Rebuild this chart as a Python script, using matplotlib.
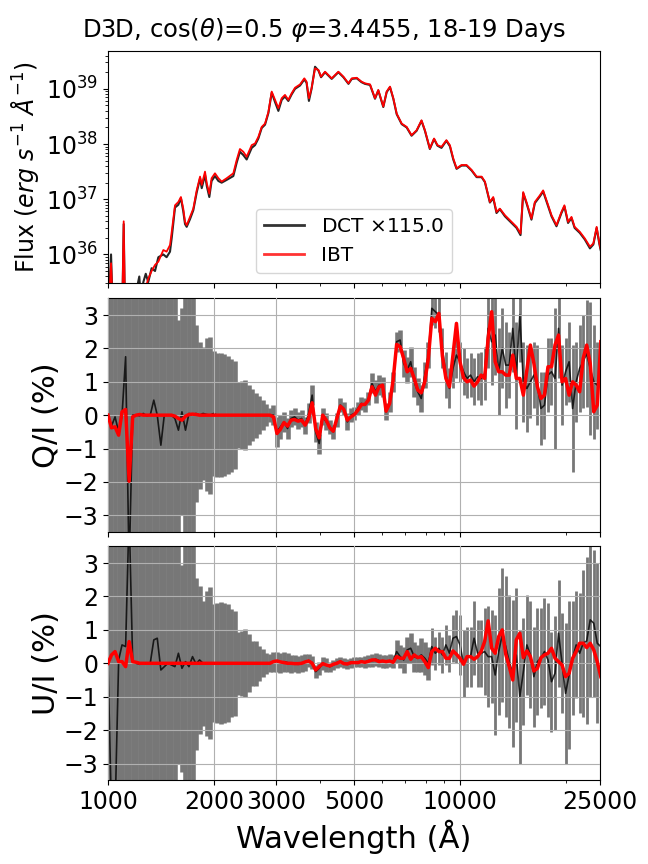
import matplotlib
matplotlib.use("Agg")
import matplotlib.pyplot as plt
import numpy as np
from matplotlib.lines import Line2D
from matplotlib.ticker import NullFormatter

# ---- flux panel (log10 of flux, DCT already scaled x115) ----
flux_wave = [1000, 1010, 1020, 1028, 1036, 1050, 1080, 1100, 1108, 1116,
             1150, 1200, 1227, 1240, 1260, 1280, 1301, 1330, 1360, 1390,
             1436, 1467, 1500, 1517, 1550, 1584, 1611, 1636, 1655, 1673,
             1710, 1747, 1786, 1826, 1846, 1886, 1908, 1940, 1969, 2013,
             2059, 2103, 2173, 2270, 2320, 2370, 2423, 2477, 2560, 2616,
             2674, 2733, 2793, 2855, 2918, 2982, 3048, 3115, 3183, 3253,
             3325, 3399, 3512, 3612, 3665, 3722, 3787, 3874, 3962, 4030,
             4136, 4320, 4513, 4664, 4821, 4928, 5090, 5250, 5370, 5552,
             5735, 5860, 6055, 6190, 6326, 6465, 6610, 6830, 7055, 7285,
             7530, 7775, 7950, 8210, 8440, 8630, 8860, 9150, 9360, 9570,
             9780, 10100, 10440, 10790, 11150, 11520, 11770, 12160, 12430, 12700,
             12980, 13420, 13860, 14480, 14860, 15120, 15450, 15960, 16320, 16860,
             17230, 17800, 18200, 18800, 19420, 19800, 20280, 20740, 21170, 21900,
             22630, 23400, 23930, 24450, 24900, 25100]

ibt_logflux = [35.3, 35.35, 35.84, 35.3, 35.0, 34.8, 34.9, 35.4, 36.6, 35.2,
               34.9, 35.0, 35.1, 35.2, 35.3, 35.4, 35.56, 35.7, 35.81, 35.87,
               36.08, 36.05, 36.17, 36.41, 36.89, 36.95, 37.04, 36.83, 36.59, 36.53,
               36.68, 36.83, 37.16, 37.41, 37.26, 37.50, 37.29, 37.10, 37.38, 37.47,
               37.38, 37.32, 37.38, 37.47, 37.71, 37.91, 37.86, 37.77, 37.98, 38.01,
               38.13, 38.31, 38.37, 38.58, 38.95, 38.80, 38.65, 38.83, 38.89, 38.80,
               38.92, 39.02, 39.08, 39.19, 39.13, 38.83, 39.01, 39.37, 39.34, 39.22,
               39.31, 39.19, 39.31, 39.22, 39.10, 39.19, 39.20, 39.13, 39.10, 39.08,
               38.83, 38.98, 38.68, 38.95, 39.04, 38.83, 38.55, 38.37, 38.31, 38.16,
               38.25, 38.43, 38.25, 37.92, 38.10, 37.98, 37.95, 38.07, 37.98, 37.74,
               37.56, 37.62, 37.62, 37.53, 37.41, 37.41, 37.32, 36.95, 37.04, 36.77,
               36.83, 36.71, 36.62, 36.50, 36.38, 37.13, 36.95, 36.65, 36.95, 37.07,
               37.16, 36.89, 36.71, 36.53, 36.77, 36.89, 36.59, 36.68, 36.50, 36.41,
               36.29, 36.14, 36.20, 36.50, 36.20, 36.10]

dct_logflux = [35.3, 35.4, 36.0, 35.3, 35.0, 34.8, 34.9, 35.3, 36.55, 35.2,
               34.9, 35.3, 35.6, 35.2, 35.5, 35.65, 35.5, 35.75, 35.7, 35.95,
               36.0, 35.95, 36.05, 36.3, 36.85, 36.9, 37.02, 36.78, 36.55, 36.50,
               36.64, 36.80, 37.12, 37.38, 37.20, 37.44, 37.24, 37.04, 37.33, 37.42,
               37.33, 37.30, 37.35, 37.42, 37.66, 37.86, 37.80, 37.72, 37.93, 37.98,
               38.10, 38.29, 38.35, 38.56, 38.93, 38.76, 38.60, 38.80, 38.86, 38.78,
               38.90, 39.00, 39.06, 39.17, 39.11, 38.78, 39.00, 39.40, 39.33, 39.21,
               39.30, 39.18, 39.30, 39.21, 39.09, 39.18, 39.19, 39.12, 39.09, 39.07,
               38.82, 38.97, 38.67, 38.94, 39.03, 38.82, 38.54, 38.36, 38.30, 38.15,
               38.24, 38.42, 38.24, 37.91, 38.09, 37.97, 37.93, 38.06, 37.96, 37.72,
               37.55, 37.61, 37.61, 37.52, 37.40, 37.40, 37.31, 36.94, 37.02, 36.75,
               36.82, 36.69, 36.60, 36.48, 36.35, 37.11, 36.93, 36.63, 36.93, 37.05,
               37.14, 36.87, 36.69, 36.51, 36.75, 36.87, 36.57, 36.66, 36.48, 36.39,
               36.27, 36.11, 36.18, 36.48, 36.18, 36.08]

# ---- polarisation bins ----
pol_wave = [1000, 1023, 1047, 1072, 1096, 1122, 1148, 1175, 1202, 1230,
            1259, 1288, 1318, 1349, 1380, 1413, 1445, 1479, 1514, 1549,
            1585, 1622, 1660, 1698, 1738, 1778, 1820, 1862, 1905, 1950,
            1995, 2042, 2089, 2138, 2188, 2239, 2291, 2344, 2399, 2455,
            2512, 2570, 2630, 2692, 2754, 2818, 2884, 2951, 3020, 3090,
            3162, 3236, 3311, 3388, 3467, 3548, 3631, 3715, 3802, 3890,
            3981, 4074, 4169, 4266, 4365, 4467, 4571, 4677, 4786, 4898,
            5012, 5129, 5248, 5370, 5495, 5623, 5754, 5888, 6026, 6166,
            6310, 6457, 6607, 6761, 6918, 7079, 7244, 7413, 7586, 7762,
            7943, 8128, 8318, 8511, 8710, 8913, 9120, 9333, 9550, 9772,
            10000, 10233, 10471, 10715, 10965, 11220, 11482, 11749, 12023, 12303,
            12589, 12882, 13183, 13490, 13804, 14125, 14454, 14791, 15136, 15488,
            15849, 16218, 16596, 16982, 17378, 17783, 18197, 18621, 19055, 19498,
            19953, 20417, 20893, 21380, 21878, 22387, 22909, 23442, 23988, 24547,
            25119]

q_dct = [0.0, -0.33, -0.05, -0.5, 0.0, 1.75, -4.6, 0.0, 0.0, -0.02,
         0.05, -0.02, 0.0, 0.45, 0.0, -0.9, 0.0, 0.0, 0.0, -0.1,
         -0.45, 0.1, -0.45, 0.05, 0.0, 0.05, 0.0, 0.05, 0.02, 0.0,
         0.05, 0.0, 0.0, 0.0, 0.0, 0.0, 0.0, 0.0, 0.0, 0.0,
         0.0, 0.0, 0.0, 0.0, 0.0, 0.0, 0.0, 0.0, -0.5, -0.35,
         -0.2, -0.4, -0.1, -0.05, -0.15, -0.1, -0.3, 0.05, 0.6, -0.5,
         -0.85, -0.05, -0.2, -0.35, -0.5, -0.15, 0.3, 0.2, -0.2, 0.0,
         0.05, 0.2, 0.35, 0.3, 0.5, 0.95, 0.7, 0.9, 0.85, 0.1,
         0.4, 1.0, 2.2, 2.25, 1.55, 1.35, 1.6, 1.0, 0.7, 0.5,
         1.2, 1.8, 3.2, 3.1, 3.0, 2.0, 1.2, 0.8, 1.4, 1.8,
         1.6, 1.3, 1.1, 1.2, 1.0, 1.15, 1.1, 1.25, 2.6, 2.2,
         2.4, 1.3, 2.0, 1.5, 1.5, 2.6, 1.2, 3.0, 1.0, 0.8,
         1.0, 1.2, 0.9, 0.2, 0.3, 1.2, 1.3, 1.1, 2.6, 0.9,
         1.3, 1.6, 0.2, 1.0, 1.4, 1.6, 1.85, 1.4, 1.0, 0.9,
         1.4]

q_err = [6, 6, 6, 6, 6, 6, 9, 6, 6, 6,
         6, 6, 6, 6, 6, 6, 6, 6, 6, 6,
         3.3, 3.1, 4.0, 4.0, 3.8, 2.65, 2.2, 2.0, 2.3, 2.35,
         1.87, 1.85, 1.85, 1.82, 1.77, 1.69, 1.62, 0.99, 1.02, 1.05,
         0.89, 0.77, 0.67, 0.57, 0.45, 0.32, 0.2, 0.3, 0.45, 0.35,
         0.3, 0.3, 0.25, 0.25, 0.25, 0.25, 0.25, 0.3, 0.3, 0.3,
         0.3, 0.25, 0.25, 0.2, 0.2, 0.2, 0.2, 0.2, 0.25, 0.2,
         0.2, 0.2, 0.2, 0.2, 0.2, 0.3, 0.35, 0.3, 0.3, 0.25,
         0.3, 0.3, 0.3, 0.3, 0.4, 0.4, 0.45, 0.45, 0.4, 0.4,
         0.4, 0.4, 0.5, 0.5, 0.5, 0.6, 0.7, 0.6, 0.6, 0.7,
         0.6, 0.7, 0.6, 0.65, 0.7, 0.7, 0.8, 0.8, 1.2, 1.3,
         1.2, 1.3, 1.2, 1.3, 1.0, 1.3, 1.6, 1.4, 1.2, 1.3,
         1.1, 1.0, 1.2, 1.1, 1.0, 1.1, 1.0, 2.1, 1.5, 1.2,
         1.0, 1.2, 1.9, 1.2, 1.3, 1.4, 1.6, 2.0, 1.7, 1.3,
         1.3]

q_ibt = [0.0, -0.38, -0.35, -0.6, 0.1, 0.17, -1.98, -0.05, 0.0, 0.02,
         0.0, 0.0, 0.0, 0.0, 0.0, 0.0, 0.0, 0.0, 0.0, -0.03,
         -0.1, -0.15, -0.03, 0.02, 0.03, 0.02, 0.0, 0.0, 0.0, 0.0,
         0.0, 0.0, 0.0, 0.0, 0.0, 0.0, 0.0, 0.0, 0.0, 0.0,
         0.0, 0.0, 0.0, 0.0, 0.0, 0.0, 0.0, -0.05, -0.55, -0.42,
         -0.22, -0.33, -0.15, -0.13, -0.18, -0.15, -0.3, -0.1, 0.37, -0.4,
         -0.68, 0.0, -0.15, -0.38, -0.48, -0.1, 0.27, 0.17, -0.15, -0.05,
         0.02, 0.15, 0.32, 0.32, 0.45, 0.85, 0.6, 0.85, 0.9, 0.12,
         0.35, 1.05, 2.12, 2.05, 1.7, 1.3, 1.4, 1.1, 0.75, 0.67,
         1.0, 1.7, 2.9, 2.8, 3.05, 1.77, 1.1, 0.85, 1.8, 2.75,
         1.6, 1.12, 1.0, 1.05, 0.87, 1.0, 1.2, 1.1, 2.3, 3.1,
         1.6, 1.3, 1.3, 1.2, 1.2, 1.8, 1.1, 1.1, 0.6, 1.35,
         2.1, 1.55, 0.85, 0.5, 0.6, 1.45, 1.45, 2.1, 2.4, 1.0,
         1.1, 0.6, 1.0, 0.9, 0.7, 1.7, 2.1, 1.55, 0.1, 0.3,
         2.2]

u_dct = [0.0, -4.5, -4.5, 0.1, 0.55, 0.5, 4.5, 0.05, 0.0, -0.03,
         0.0, 0.0, 0.0, 0.7, 0.75, -0.2, -0.1, 0.0, -0.05, -0.1,
         0.3, -0.15, 0.05, -0.1, 0.2, -0.02, 0.1, 0.0, 0.0, 0.0,
         0.0, 0.0, 0.0, 0.0, 0.0, 0.0, 0.0, 0.0, 0.0, 0.0,
         0.0, 0.0, 0.0, 0.0, 0.0, 0.0, 0.0, 0.05, 0.05, 0.0,
         0.05, 0.02, -0.02, 0.0, -0.03, 0.0, 0.02, 0.08, 0.02, -0.25,
         -0.15, 0.0, -0.05, -0.1, -0.05, 0.02, 0.05, 0.0, -0.03, 0.0,
         0.03, 0.04, 0.05, 0.03, 0.08, 0.08, 0.12, 0.08, 0.06, 0.05,
         0.08, 0.05, 0.35, 0.2, 0.1, 0.4, 0.45, 0.2, 0.15, 0.25,
         0.15, 0.0, 0.5, 0.3, 0.45, 0.25, 0.55, 0.3, 0.75, 0.8,
         0.55, 0.0, 0.2, 0.2, 0.75, 0.3, 0.3, 0.35, 0.2, 0.2,
         -0.35, 0.35, 0.85, 0.5, 0.05, -0.3, 0.25, -1.0, -0.25, 0.55,
         0.25, -0.4, 0.05, 0.15, 0.35, 0.1, -0.55, -0.3, 0.9, 0.0,
         -0.9, -0.35, 0.15, 0.55, 0.3, 0.6, 0.67, 1.3, 1.2, 0.6,
         0.5]

u_err = [6, 9, 9, 6, 6, 6, 9, 6, 6, 6,
         6, 6, 6, 6, 6, 6, 6, 6, 6, 6,
         3.3, 3.1, 4.0, 4.0, 3.8, 2.57, 2.22, 1.87, 2.17, 2.27,
         1.77, 1.79, 1.82, 1.79, 1.77, 1.62, 1.57, 0.95, 0.97, 1.02,
         0.87, 0.67, 0.67, 0.52, 0.42, 0.32, 0.27, 0.3, 0.3, 0.3,
         0.3, 0.28, 0.28, 0.25, 0.25, 0.25, 0.25, 0.2, 0.2, 0.2,
         0.2, 0.2, 0.2, 0.15, 0.15, 0.15, 0.15, 0.15, 0.15, 0.15,
         0.15, 0.15, 0.15, 0.18, 0.18, 0.2, 0.2, 0.2, 0.2, 0.2,
         0.2, 0.2, 0.35, 0.35, 0.4, 0.4, 0.45, 0.45, 0.4, 0.5,
         0.5, 0.5, 0.55, 0.5, 0.5, 0.55, 0.6, 0.55, 0.7, 0.8,
         0.9, 1.0, 0.9, 0.9, 1.1, 1.0, 1.0, 1.3, 1.5, 1.4,
         1.8, 1.9, 2.0, 2.1, 2.0, 2.2, 2.0, 2.0, 1.6, 1.5,
         1.6, 1.5, 1.6, 1.5, 1.6, 1.7, 1.5, 1.7, 1.6, 1.5,
         2.1, 2.2, 1.7, 1.6, 1.8, 2.2, 2.5, 2.3, 2.2, 2.4,
         2.4]

u_ibt = [0.0, 0.25, 0.35, 0.05, 0.05, -0.1, 0.65, 0.05, 0.03, 0.0,
         0.0, 0.0, 0.0, 0.0, 0.0, 0.0, 0.0, 0.0, 0.0, 0.0,
         0.0, 0.0, 0.0, 0.0, 0.0, 0.0, 0.0, 0.0, 0.0, 0.0,
         0.0, 0.0, 0.0, 0.0, 0.0, 0.0, 0.0, 0.0, 0.0, 0.0,
         0.0, 0.0, 0.0, 0.0, 0.0, 0.0, 0.0, 0.05, 0.07, 0.04,
         0.02, 0.0, 0.0, -0.01, -0.01, 0.0, 0.04, 0.07, 0.0, -0.2,
         -0.1, -0.01, -0.05, -0.08, -0.03, 0.0, 0.05, -0.01, -0.02, 0.02,
         0.02, 0.02, 0.05, 0.03, 0.06, 0.1, 0.1, 0.05, 0.07, 0.05,
         0.07, 0.03, 0.2, 0.15, 0.15, 0.35, 0.12, 0.25, 0.17, 0.2,
         0.05, -0.13, 0.35, 0.45, 0.35, 0.35, 0.15, 0.15, 0.37, 0.27,
         0.15, -0.03, 0.2, 0.2, 0.12, 0.2, 0.35, 0.65, 1.27, 0.45,
         0.3, 0.8, 1.0, 0.27, -0.1, -0.5, 0.7, 0.9, 0.17, 0.37,
         0.2, -0.23, -0.15, 0.17, 0.25, 0.3, 0.45, 0.15, 0.05, -0.05,
         -0.4, -0.3, 0.15, 0.35, 0.6, 0.6, 0.47, 0.6, 0.4, 0.05,
         -0.4]

xticks = [1000, 2000, 3000, 5000, 10000, 25000]
title = r"D3D, cos($\theta$)=0.5 $\varphi$=3.4455, 18-19 Days"
dct_label = r"DCT $\times$115.0"
ibt_label = "IBT"

ERR_COLOR = "#777777"
TICK_SIZE = 17

fig = plt.figure(figsize=(6.48, 8.64), dpi=100)
left, width = 0.1667, 0.7593
ax_f = fig.add_axes([left, 0.6721, width, 0.2692])
ax_q = fig.add_axes([left, 0.3843, width, 0.2704], sharex=ax_f)
ax_u = fig.add_axes([left, 0.0969, width, 0.2708], sharex=ax_f)

# flux
ax_f.plot(flux_wave, np.power(10.0, dct_logflux), color="k", lw=1.5, alpha=0.85)
ax_f.plot(flux_wave, np.power(10.0, ibt_logflux), color="red", lw=1.3)
ax_f.set_yscale("log")
ax_f.set_ylim(3e35, 4.9e39)
ax_f.set_ylabel(r"Flux ($erg\ s^{-1}\ \AA^{-1}$)", fontsize=17)
handles = [Line2D([0], [0], color="k", lw=2, alpha=0.8),
           Line2D([0], [0], color="red", lw=2, alpha=0.8)]
ax_f.legend(handles, [dct_label, ibt_label], loc="lower center", fontsize=14.5)


def pol_panel(ax, dct, err, ibt, label):
    wave = np.array(pol_wave)
    dct = np.array(dct)
    err = np.array(err)
    # dense UV/optical bins merge into a band, IR bins are thin sticks
    cut = 92
    ax.errorbar(wave[:cut], dct[:cut], yerr=err[:cut], fmt="none",
                ecolor=ERR_COLOR, elinewidth=3.3, zorder=1)
    ax.errorbar(wave[cut:], dct[cut:], yerr=err[cut:], fmt="none",
                ecolor=ERR_COLOR, elinewidth=2.0, zorder=1)
    ax.plot(wave, dct, color="k", lw=1.2, alpha=0.8, zorder=2)
    ax.plot(wave, ibt, color="red", lw=2.5, zorder=3)
    ax.set_ylim(-3.5, 3.5)
    ax.set_yticks([-3, -2, -1, 0, 1, 2, 3])
    ax.set_ylabel(label, fontsize=22, labelpad=2)
    ax.grid(True, which="major")
    ax.set_axisbelow(False)


pol_panel(ax_q, q_dct, q_err, q_ibt, "Q/I (%)")
pol_panel(ax_u, u_dct, u_err, u_ibt, "U/I (%)")

ax_u.set_xscale("log")
ax_u.set_xlim(1000, 25000)
ax_u.set_xticks(xticks)
ax_u.set_xticklabels([str(t) for t in xticks])
ax_u.xaxis.set_minor_formatter(NullFormatter())
ax_u.set_xlabel("Wavelength (Å)", fontsize=22)

for ax in (ax_f, ax_q, ax_u):
    ax.tick_params(labelsize=TICK_SIZE)
for ax in (ax_f, ax_q):
    plt.setp(ax.get_xticklabels(), visible=False)

fig.text(0.5, 1 - 30 / 864, title, ha="center", va="center", fontsize=17.5)

fig.savefig("out.png", dpi=100)
